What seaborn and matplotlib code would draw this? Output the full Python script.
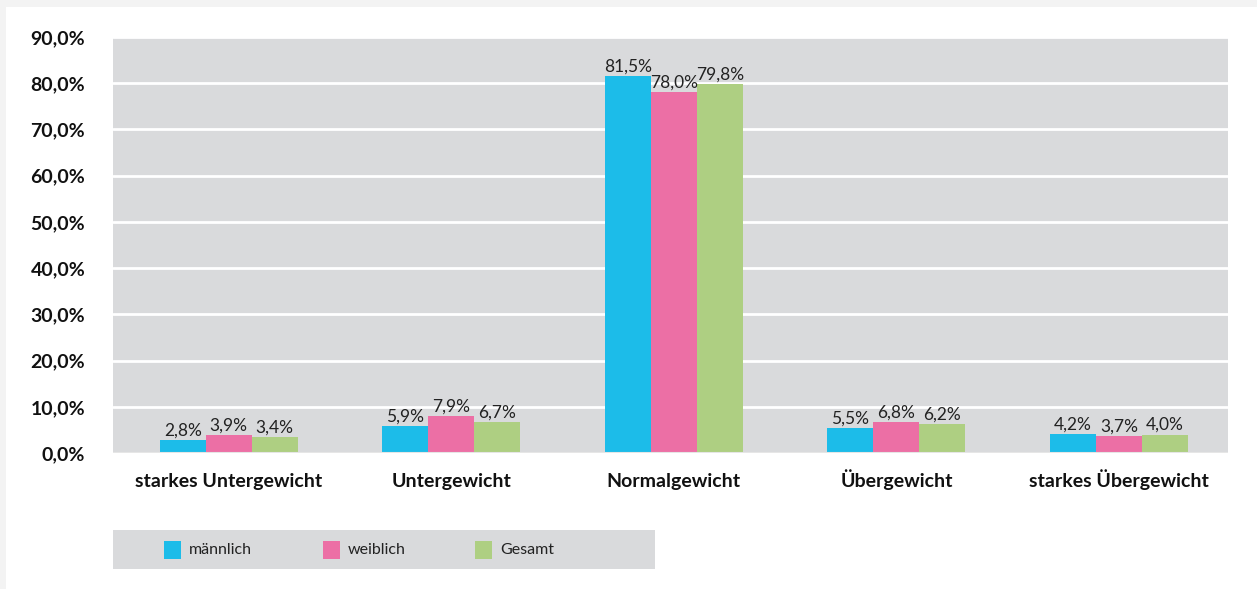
import matplotlib
matplotlib.use("Agg")
import matplotlib.pyplot as plt
from matplotlib.patches import Rectangle
import seaborn as sns
import pandas as pd

categories = ["starkes Untergewicht", "Untergewicht", "Normalgewicht",
              "Übergewicht", "starkes Übergewicht"]
maennlich = [2.8, 5.9, 81.5, 5.5, 4.2]
weiblich = [3.9, 7.9, 78.0, 6.8, 3.7]
gesamt = [3.4, 6.7, 79.8, 6.2, 4.0]
series_names = ["männlich", "weiblich", "Gesamt"]
colors = ["#1cbce9", "#ec6fa5", "#aecf82"]
y_ticks = [0, 10, 20, 30, 40, 50, 60, 70, 80, 90]

rows = []
for name, vals in zip(series_names, [maennlich, weiblich, gesamt]):
    for cat, v in zip(categories, vals):
        rows.append({"Kategorie": cat, "Gruppe": name, "Wert": v})
df = pd.DataFrame(rows)

sns.set_theme(style="white")
plt.rcParams["font.family"] = ["Lato", "DejaVu Sans"]

fig = plt.figure(figsize=(12.57, 5.89), dpi=100)
fig.patch.set_facecolor("#f3f3f3")
# white card
fig.add_artist(Rectangle((6 / 1257, 0), 1 - 6 / 1257, 1 - 7 / 589,
                         transform=fig.transFigure, facecolor="white",
                         edgecolor="none", zorder=-10))

ax = fig.add_axes([113 / 1257, 1 - 453 / 589, (1228 - 113) / 1257, (453 - 37) / 589])
ax.set_facecolor("#d9dadc")

sns.barplot(data=df, x="Kategorie", y="Wert", hue="Gruppe",
            hue_order=series_names, order=categories, palette=colors,
            width=0.62, gap=0, saturation=1, edgecolor="none",
            legend=False, ax=ax, zorder=3)

for container in ax.containers:
    labels = [f"{b.get_height():.1f}%".replace(".", ",") for b in container]
    ax.bar_label(container, labels=labels, padding=1, fontsize=12.5,
                 color="#222222", zorder=4)

ax.set_ylim(0, 90)
ax.set_xlim(-0.52, 4.49)
ax.set_yticks(y_ticks)
ax.set_yticklabels([f"{t:.1f}%".replace(".", ",") for t in y_ticks],
                   fontsize=14, fontweight="bold", color="#111111")
ax.tick_params(axis="y", length=0, pad=20)
ax.tick_params(axis="x", length=0, pad=24.5)
for lbl in ax.get_xticklabels():
    lbl.set_fontsize(14)
    lbl.set_fontweight("bold")
    lbl.set_color("#111111")
    lbl.set_verticalalignment("baseline")
ax.set_xlabel("")
ax.set_ylabel("")
ax.yaxis.grid(True, color="white", linewidth=2, zorder=1)
ax.set_axisbelow(True)
for s in ax.spines.values():
    s.set_visible(False)
ax.axhline(0, color="#e6e6e6", linewidth=1.5, zorder=5)

# legend box
lax = fig.add_axes([113 / 1257, 1 - 569 / 589, (655 - 113) / 1257, 39 / 589])
lax.set_xlim(113, 655)
lax.set_ylim(0, 39)
lax.set_facecolor("#d9dadc")
lax.set_xticks([])
lax.set_yticks([])
for s in lax.spines.values():
    s.set_visible(False)
for x0, name, c in zip([164, 323, 475], series_names, colors):
    lax.add_patch(Rectangle((x0, 10.5), 17, 18, facecolor=c, edgecolor="none"))
    lax.text(x0 + 25, 19.5, name, va="center", ha="left", fontsize=11.5,
             color="#222222")

fig.savefig("out.png", dpi=100, facecolor=fig.get_facecolor())
